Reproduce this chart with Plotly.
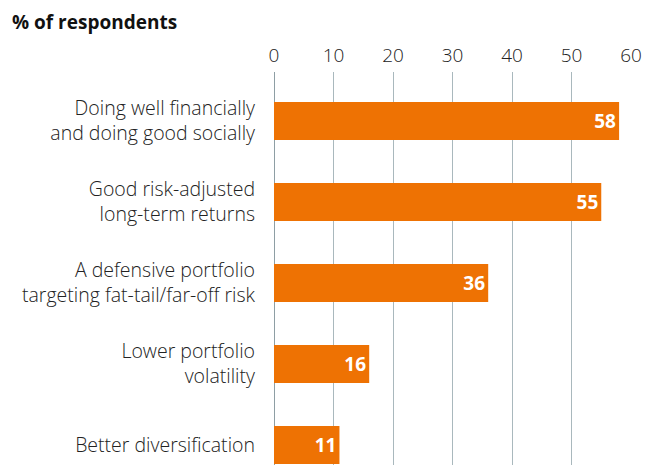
import plotly.graph_objects as go

categories = [
    "Doing well financially<br>and doing good socially",
    "Good risk-adjusted<br>long-term returns",
    "A defensive portfolio<br>targeting fat-tail/far-off risk",
    "Lower portfolio<br>volatility",
    "Better diversification",
]
values = [58, 55, 36, 16, 11]
x_ticks = [0, 10, 20, 30, 40, 50, 60]

cats_plot = categories[::-1]
vals_plot = values[::-1]

FONT = "Open Sans"

fig = go.Figure(go.Bar(
    x=vals_plot, y=cats_plot, orientation="h",
    marker=dict(color="#EE7203", line=dict(width=0)),
    width=0.47,
    text=[str(v) for v in vals_plot],
    textposition="inside", insidetextanchor="end",
    textfont=dict(color="white", size=19, family=FONT, weight="bold"),
    cliponaxis=False,
))

fig.update_layout(
    width=646, height=465,
    margin=dict(l=274, r=15, t=72, b=0),
    paper_bgcolor="white", plot_bgcolor="white",
    showlegend=False,
    font=dict(family=FONT, color="#222"),
    xaxis=dict(
        side="top", range=[0, 60], tickvals=x_ticks,
        showgrid=True, gridcolor="#A9B8BD", gridwidth=1,
        zeroline=True, zerolinecolor="#8E9EA4", zerolinewidth=1,
        showline=False, ticks="",
        tickfont=dict(size=19, family=FONT, weight=300, color="#222"),
        ticklabelstandoff=5,
    ),
    yaxis=dict(
        type="category", categoryorder="array", categoryarray=cats_plot,
        range=[-0.247, 4.605], showgrid=False, zeroline=False, showline=False,
        ticks="", ticklabelstandoff=18,
        tickfont=dict(size=19.5, family=FONT, weight=300, color="#222"),
    ),
    annotations=[dict(
        text="<b>% of respondents</b>", xref="paper", yref="paper",
        x=-264/357, y=1 + 50/393, xanchor="left", yanchor="middle",
        showarrow=False, font=dict(size=19, family=FONT, color="#111"),
    )],
)

fig.write_html(
    "out.html",
    config={"displayModeBar": False},
    post_script="document.body.style.margin='0';document.body.style.overflow='hidden';",
)
